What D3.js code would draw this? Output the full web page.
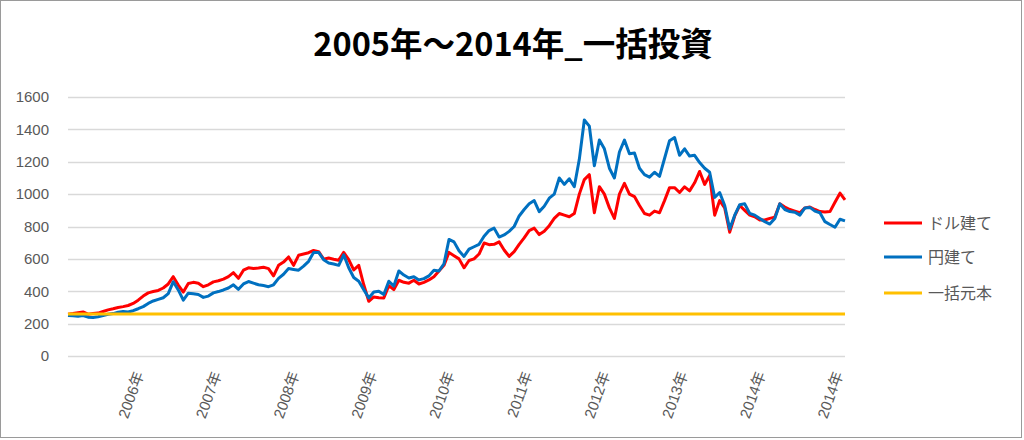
<!DOCTYPE html>
<html><head><meta charset="utf-8">
<script src="https://cdn.jsdelivr.net/npm/d3@7"></script>
<style>
html,body{margin:0;padding:0;background:#fff;}
svg{display:block;}
text{font-family:"Liberation Sans","Noto Sans CJK JP",sans-serif;}
</style></head>
<body>
<svg id="chart" width="1024" height="440"></svg>
<script>
const title = "2005年～2014年_一括投資";
const seriesNames = ["ドル建て", "円建て", "一括元本"];
const seriesColors = ["#ff0000", "#0070c0", "#ffc000"];
const xTickLabels = ["2006年","2007年","2008年","2009年","2010年","2011年","2012年","2013年","2014年","2014年"];
const yTicks = [0,200,400,600,800,1000,1200,1400,1600];
const principal = 260;

const dollarValues = [258,262,268,272,258,262,265,275,285,292,300,305,312,325,345,370,390,398,405,420,
445,490,438,395,448,455,450,428,440,458,465,475,490,515,480,530,545,540,543,548,
540,495,560,580,612,560,622,630,638,652,645,598,605,598,592,640,595,532,560,440,
338,365,360,358,435,410,468,455,450,468,445,455,470,490,525,560,640,620,600,545,
590,600,630,698,688,690,705,655,615,645,690,730,775,790,750,770,805,850,880,870,
860,880,1000,1090,1120,885,1046,1000,915,850,1000,1067,1000,985,930,880,870,895,885,960,
1040,1040,1010,1045,1020,1070,1140,1060,1115,870,960,915,765,865,930,900,870,860,840,840,
850,858,940,920,905,895,885,915,920,905,892,890,892,950,1006,965];

const yenValues = [250,248,245,250,240,238,243,250,258,262,270,275,272,280,292,305,325,340,350,360,
385,459,408,345,388,385,380,362,370,390,398,408,420,440,412,445,460,450,440,435,
428,440,480,505,540,535,530,555,585,640,640,595,575,568,560,625,545,485,462,410,
358,395,400,380,462,432,525,500,482,490,470,478,495,530,525,570,720,705,650,615,
660,675,690,740,775,790,735,748,770,800,865,905,940,960,892,925,975,1000,1100,1060,
1095,1046,1215,1458,1420,1175,1334,1280,1160,1100,1260,1334,1250,1254,1160,1120,1105,1135,1110,1220,
1330,1350,1240,1280,1235,1240,1195,1160,1135,980,1010,930,785,870,935,940,880,870,850,830,
815,850,940,905,892,888,870,915,918,895,885,830,812,795,845,835];

const principalValues = dollarValues.map(() => principal);

const svg = d3.select("#chart");
const W = 1024, H = 440;
const margin = {left: 68, right: 179, top: 97, bottom: 84};

svg.append("rect").attr("x",0.5).attr("y",0.5).attr("width",W-3).attr("height",H-3)
  .attr("fill","#fff").attr("stroke","#9a9a9a").attr("stroke-width",1);

const x = d3.scaleLinear().domain([0, dollarValues.length - 1]).range([margin.left, W - margin.right]);
const y = d3.scaleLinear().domain([0, 1600]).range([H - margin.bottom, margin.top]);

// gridlines
svg.append("g").selectAll("line").data(yTicks).join("line")
  .attr("x1", margin.left).attr("x2", W - margin.right)
  .attr("y1", d => Math.round(y(d)) + 0.5).attr("y2", d => Math.round(y(d)) + 0.5)
  .attr("stroke", "#d9d9d9").attr("stroke-width", 1.3);

// y axis labels
const yAxis = d3.axisLeft(y).tickValues(yTicks).tickSize(0).tickPadding(0).tickFormat(d3.format("d"));
const gy = svg.append("g").attr("transform", `translate(${margin.left - 19},0)`).call(yAxis);
gy.select(".domain").remove();
gy.selectAll("text").attr("fill","#595959").style("font-size","15px")
  .style("font-family","'Liberation Sans','Noto Sans CJK JP',sans-serif");

// x axis labels
const n = dollarValues.length - 1;
const tickPos = xTickLabels.map((_, i) => n * (i + 1) / xTickLabels.length);
const xAxis = d3.axisBottom(x).tickValues(tickPos).tickSize(0)
  .tickFormat((d, i) => xTickLabels[i]);
const gx = svg.append("g").attr("transform", `translate(0,${H - margin.bottom})`).call(xAxis);
gx.select(".domain").remove();
gx.selectAll("text")
  .attr("y", 0).attr("dy", 0)
  .attr("text-anchor","end")
  .attr("transform","translate(-2,18) rotate(-70)")
  .attr("fill","#595959").style("font-size","15px")
  .style("font-family","'Liberation Sans','Noto Sans CJK JP',sans-serif");

// lines
const line = d3.line().x((d, i) => x(i)).y(d => y(d));
const allSeries = [dollarValues, yenValues, principalValues];
svg.append("g").selectAll("path").data(allSeries).join("path")
  .attr("d", d => line(d))
  .attr("fill","none")
  .attr("stroke", (d, i) => seriesColors[i])
  .attr("stroke-width", 3)
  .attr("stroke-linejoin","round");

// title
svg.append("text").attr("x", 513).attr("y", 56).attr("text-anchor","middle")
  .style("font-family","'Noto Sans CJK JP',sans-serif").style("font-weight","bold")
  .style("font-size","32.5px").attr("fill","#000").text(title);

// legend
const legendY = [223, 257, 293];
const lg = svg.append("g").selectAll("g").data(seriesNames).join("g")
  .attr("transform", (d, i) => `translate(884,${legendY[i]})`);
lg.append("line").attr("x1",0).attr("x2",38).attr("y1",0).attr("y2",0)
  .attr("stroke",(d,i)=>seriesColors[i]).attr("stroke-width",3);
lg.append("text").attr("x",44).attr("y",0).attr("dy","0.36em")
  .attr("fill","#595959").style("font-size","16px")
  .style("font-family","'Noto Sans CJK JP',sans-serif").text(d => d);
</script>
</body></html>
